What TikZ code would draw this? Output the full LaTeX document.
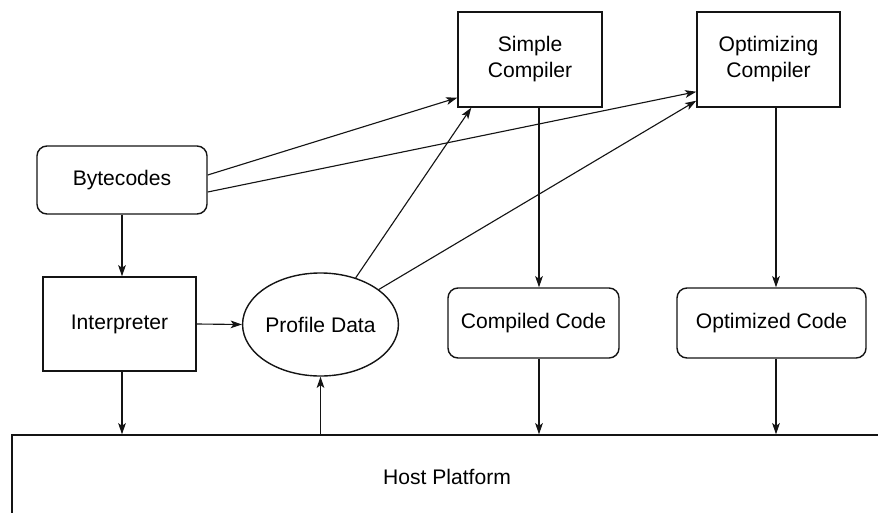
\documentclass[tikz,border=0pt]{standalone}
\usepackage{fontspec}
\setmainfont{Liberation Sans}
\usetikzlibrary{positioning, shapes, arrows.meta, calc}
\definecolor{InkBlack}{RGB}{20, 20, 20}

\begin{document}
\begin{tikzpicture}[
    x=0.025cm, y=-0.025cm,
    font=\fontsize{15}{18.5}\selectfont,
    block/.style={rectangle, draw=InkBlack, line width=1pt, inner sep=0pt, align=center},
    rblock/.style={block, rounded corners=0.25cm},
    blob/.style={ellipse, draw=InkBlack, line width=1pt, inner sep=0pt},
    arrow/.style={-{Stealth[length=8pt, width=5.5pt, inset=2pt]}, InkBlack, line width=0.8pt}
  ]
    \useasboundingbox (0,0) rectangle (878,512);
    \clip (0,0) rectangle (878,512);

    % Bytecodes and interpreter
    \node[rblock, minimum width=4.25cm, minimum height=1.7cm] (bytecodes) at (122,180) {Bytecodes};
    \node[block, minimum width=3.825cm, minimum height=2.35cm] (interp) at (119.5,324) {Interpreter};
    \node[blob, minimum width=3.825cm, minimum height=2.575cm] (profile) at (320.5,324.5) {Profile Data};

    % Compilers
    \node[block, minimum width=3.6cm, minimum height=2.375cm] (simple) at (530,59.5) {Simple\\Compiler};
    \node[block, minimum width=3.575cm, minimum height=2.375cm] (optimizing) at (768.5,59.5) {Optimizing\\Compiler};

    % Generated code
    \node[rblock, minimum width=4.275cm, minimum height=1.75cm] (compiled) at (533.5,323) {Compiled Code};
    \node[rblock, minimum width=4.725cm, minimum height=1.75cm] (optimized) at (771.5,323) {Optimized Code};

    % Host platform
    \node[block, minimum width=21.75cm, minimum height=2.1cm] (host) at (447,477) {Host Platform};

    % Connections
    \draw[arrow] (bytecodes.south) -- (bytecodes.south |- interp.north);
    \draw[arrow] (interp.east) -- (profile.west);
    \draw[arrow] (interp.south -| bytecodes.south) -- (host.north -| bytecodes.south);
    \draw[arrow] (host.north -| profile.south) -- (profile.south);

    \draw[arrow] ([yshift=0.125cm]bytecodes.east) -- ([yshift=0.25cm]simple.south west);
    \draw[arrow] ([yshift=-0.3cm]bytecodes.east) -- ([yshift=0.4cm]optimizing.south west);
    \draw[arrow] (profile.53) -- ([xshift=0.35cm]simple.south west);
    \draw[arrow] (profile.31) -- ([yshift=0.175cm]optimizing.south west);

    \foreach \src/\dst/\x in {simple/compiled/539, optimizing/optimized/776} {
      \coordinate (col) at (\x,0);
      \draw[arrow] (\src.south -| col) -- (\dst.north -| col);
      \draw[arrow] (\dst.south -| col) -- (host.north -| col);
    }
  \end{tikzpicture}
\end{document}
